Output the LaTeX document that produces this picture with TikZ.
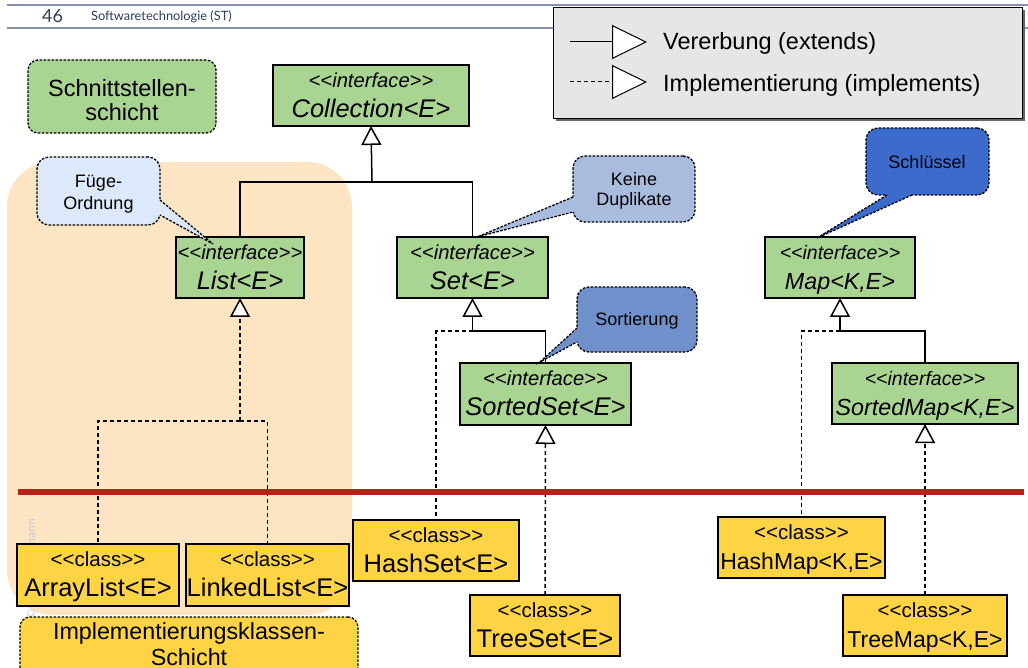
\documentclass[tikz,border=0pt]{standalone}
\usepackage{fontspec}
\setmainfont{Liberation Sans}
\newfontfamily\latofont{Lato}
\usetikzlibrary{arrows.meta,calc}
\definecolor{ifgreen}{RGB}{169,212,146}
\definecolor{clyellow}{RGB}{254,212,68}
\definecolor{peach}{RGB}{253,228,194}
\definecolor{hdrline}{RGB}{135,145,175}
\definecolor{hdrtxt}{RGB}{45,60,95}
\definecolor{lgray}{RGB}{230,230,230}
\definecolor{redbar}{RGB}{180,35,24}
\definecolor{cfuege}{RGB}{221,232,250}
\definecolor{cdup}{RGB}{170,188,222}
\definecolor{csort}{RGB}{112,144,204}
\definecolor{cschl}{RGB}{61,107,204}
\definecolor{wmark}{RGB}{200,204,218}
\newcommand\fsz[1]{\fontsize{#1}{#1}\selectfont}
\newcommand\lab{<\kern0pt<}
\newcommand\rab{>\kern0pt>}
\newcommand\ubox[8]{%
  \node[#2, minimum width={#5-#3}, minimum height={#6-#4}] (#1) at ({(#3+#5)/2},{(#4+#6)/2}) {};
  \node[anchor=base, inner sep=0pt] (#1-s) at ({(#3+#5)/2},{#4+22.5}) {#7};
  \node[anchor=base, inner sep=0pt] (#1-n) at ({(#3+#5)/2},{#4+52.5}) {#8};}
\newcommand\pointer[5]{%
  \fill[#1] ($#2+#5$) -- #2 -- #4 -- #3 -- ($#3+#5$) -- cycle;
  \draw[callline] #2 -- #4 -- #3;}
\begin{document}
\begin{tikzpicture}[x=1pt,y=-1pt,
  box/.style={draw=black, line width=1.5pt, inner sep=0pt, outer sep=0pt},
  ibox/.style={box, fill=ifgreen},
  cbox/.style={box, fill=clyellow},
  conn/.style={line width=1.5pt},
  dconn/.style={conn, dash pattern=on 4pt off 3pt},
  gen/.style={-{Triangle[fill=white,length=19pt,width=20pt]}},
  callline/.style={line width=1.3pt, dash pattern=on 2.5pt off 1.5pt},
  callbox/.style={draw=black, callline, rounded corners=12pt, inner sep=0pt, outer sep=0pt},
  layer/.style={draw=black, line width=1.3pt, dash pattern=on 2.5pt off 1.5pt, rounded corners=10pt, inner sep=0pt, outer sep=0pt},
  txt/.style={anchor=base, inner sep=0pt},
]
\useasboundingbox (0,0) rectangle (1028,668);
\clip (0,0) rectangle (1028,668);
\fill[white] (0,0) rectangle (1028,668);

% header
\draw[hdrline, line width=2pt] (7,5.5) -- (1028,5.5);
\draw[hdrline, line width=2pt] (7,28) -- (1028,28);
\node[anchor=base west, inner sep=0pt, font=\latofont\fsz{18}, text=hdrtxt] (pg) at (42,23) {46};
\node[anchor=base west, inner sep=0pt, font=\latofont\fsz{12.8}, text=hdrtxt] (ttl) at (91,20.5) {Softwaretechnologie (ST)};

% implementation-layer background
\fill[peach, rounded corners=45pt] (7,162) rectangle (352,615);
\node[rotate=90, anchor=east, inner sep=0pt, font=\latofont\fsz{12}, text=wmark] (wm) at (31,519) {© Prof. U. Aßmann};

% legend
\fill[black!60] (556,10) rectangle (1025,121);
\node[draw=black, fill=lgray, line width=0.8pt, minimum width=469, minimum height=111, inner sep=0pt] (legend) at (787.5,62.5) {};
\coordinate (l1a) at (570,42); \coordinate (l1b) at (647,42);
\coordinate (l2a) at (570,82); \coordinate (l2b) at (647,82);
\draw[line width=1pt, -{Triangle[fill=white,length=35pt,width=34pt,line width=1pt]}] (l1a) -- (l1b);
\draw[line width=1pt, dash pattern=on 4pt off 3pt, -{Triangle[fill=white,length=35pt,width=34pt,line width=1pt]}] (l2a) -- (l2b);
\node[anchor=base west, inner sep=0pt, font=\fsz{23.5}] (l1t) at (663,50) {Vererbung (extends)};
\node[anchor=base west, inner sep=0pt, font=\fsz{23.5}] (l2t) at (663,92) {Implementierung (implements)};

% interface layer label
\node[layer, fill=ifgreen, minimum width=188, minimum height=73] (ssbox) at (122,96.5) {};
\node[txt, font=\fsz{23.5}] (ss1) at (122,97) {Schnittstellen-};
\node[txt, font=\fsz{23.5}] (ss2) at (122,121) {schicht};

% interface boxes
\ubox{coll}{ibox}{273}{65}{469}{126}{\fsz{20.2}\itshape\lab interface\rab}{\fsz{25.5}\itshape Collection<E>}
\ubox{list}{ibox}{176}{237}{304}{298}{\fsz{20.2}\itshape\lab interface\rab}{\fsz{25.5}\itshape List<E>}
\ubox{set}{ibox}{397}{237}{548}{298}{\fsz{20.2}\itshape\lab interface\rab}{\fsz{25.5}\itshape Set<E>}
\ubox{sset}{ibox}{460}{363}{631}{425}{\fsz{20.2}\itshape\lab interface\rab}{\fsz{25.5}\itshape SortedSet<E>}
\ubox{map}{ibox}{765}{237}{915}{298}{\fsz{19.5}\itshape\lab interface\rab}{\fsz{23.3}\itshape Map<K,E>}
\ubox{smap}{ibox}{832}{363}{1018}{424}{\fsz{19.5}\itshape\lab interface\rab}{\fsz{23.3}\itshape SortedMap<K,E>}

% class boxes
\ubox{alist}{cbox}{17}{544}{179}{606}{\fsz{20.5}\lab class\rab}{\fsz{25.5}ArrayList<E>}
\ubox{llist}{cbox}{186}{544}{349}{606}{\fsz{20.5}\lab class\rab}{\fsz{25.5}LinkedList<E>}
\ubox{hset}{cbox}{353}{520}{519}{581}{\fsz{20.5}\lab class\rab}{\fsz{25.5}HashSet<E>}
\ubox{tset}{cbox}{470}{595}{620}{656}{\fsz{20.5}\lab class\rab}{\fsz{25.5}TreeSet<E>}
\ubox{hmap}{cbox}{718}{517}{885}{578}{\fsz{20.5}\lab class\rab}{\fsz{23}HashMap<K,E>}
\ubox{tmap}{cbox}{843}{595}{1007}{656}{\fsz{20.5}\lab class\rab}{\fsz{23}TreeMap<K,E>}

% hubs
\coordinate (cj) at (372,182);
\coordinate (sj) at (472.5,331);
\coordinate (mj) at (840,331);
\coordinate (lj) at (240,421);

% connectors
\draw[conn] (list.north) |- (cj) -| (set.north);
\draw[conn, gen] (cj) -- (coll.south);
\draw[conn] (sj) -| (sset.north);
\draw[dconn] (sj) -| (hset.north);
\draw[conn, gen] (sj) -- (set.south);
\draw[conn] (mj) -| (smap.north);
\draw[dconn] (mj) -| (hmap.north);
\draw[conn, gen] (mj) -- (map.south);
\draw[dconn] (lj) -| (alist.north);
\draw[dconn] (lj) -| (llist.north);
\draw[dconn, gen] (lj) -- (list.south);
\draw[dconn, gen] (tset.north) -- (sset.south);
\draw[dconn, gen] (tmap.north) -- (smap.south);

% layer separator
\coordinate (rl1) at (18,492); \coordinate (rl2) at (1024,492);
\draw[redbar, line width=6pt] (rl1) -- (rl2);

% implementation layer label
\node[layer, fill=clyellow, minimum width=338, minimum height=80] (ikbox) at (189,657) {};
\node[txt, font=\fsz{23.3}] (ik1) at (189,639) {Implementierungsklassen-};
\node[txt, font=\fsz{23.3}] (ik2) at (189,665) {Schicht};

% callouts
\node[callbox, fill=cfuege, minimum width=123, minimum height=68] (cfu) at (98.5,191) {};
\pointer{cfuege}{(160,200)}{(160,215)}{(213,244)}{(-3,0)}
\node[txt, font=\fsz{18}] (cfu1) at (98.5,188) {Füge-};
\node[txt, font=\fsz{18}] (cfu2) at (98.5,210) {Ordnung};

\node[callbox, fill=cdup, minimum width=122, minimum height=66] (cdu) at (634,189) {};
\pointer{cdup}{(573,197)}{(573,212)}{(477,237)}{(3,0)}
\node[txt, font=\fsz{18}] (cdu1) at (634,186) {Keine};
\node[txt, font=\fsz{18}] (cdu2) at (634,206) {Duplikate};

\node[callbox, fill=csort, minimum width=120, minimum height=65] (cso) at (637,319.5) {};
\pointer{csort}{(577,328)}{(577,342)}{(540,362)}{(3,0)}
\node[txt, font=\fsz{18}] (cso1) at (637,326) {Sortierung};

\node[callbox, fill=cschl, minimum width=123, minimum height=67] (csc) at (927.5,161.5) {};
\pointer{cschl}{(887,195)}{(912,195)}{(817,238)}{(0,-3)}
\node[txt, font=\fsz{18}] (csc1) at (927,169) {Schlüssel};
\end{tikzpicture}
\end{document}
